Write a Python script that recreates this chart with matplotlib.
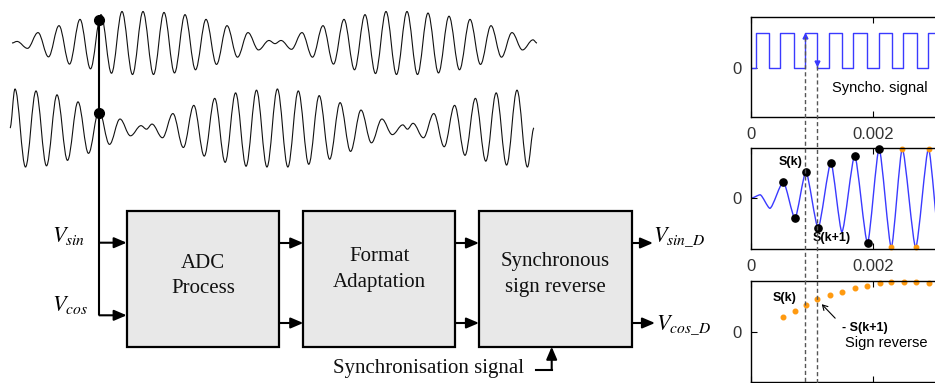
import numpy as np
import matplotlib.pyplot as plt
from matplotlib.path import Path
from matplotlib.patches import PathPatch, Rectangle

plt.rcParams['mathtext.fontset'] = 'stix'
plt.rcParams['font.family'] = ['Liberation Serif', 'DejaVu Serif']

# resolver signals: carrier extrema (position along the sketch, normalised value)
sin_x = np.r_[12, np.arange(17, 270, 10.5), 275, np.arange(281, 534, 10.5), 537]
sin_v = ([0]
         + [0.05, -0.17, 0.33, -0.44, 0.55, -0.67, 0.75, -0.82, 0.90, -0.96, 1.00, -1.00, 1.00,
            -1.00, 0.97, -0.95, 0.90, -0.85, 0.75, -0.68, 0.55, -0.45, 0.33, -0.22, 0.08]
         + [-0.02]
         + [0.08, -0.20, 0.33, -0.45, 0.55, -0.67, 0.75, -0.85, 0.90, -0.97, 1.00, -1.00, 1.00,
            -1.00, 0.95, -0.95, 0.85, -0.85, 0.75, -0.68, 0.55, -0.45, 0.33, -0.22, 0.10]
         + [0])

cos_x = np.r_[10, np.arange(15, 142, 10.5), 146.5, np.arange(152, 403.5, 10.45), 407.5,
              np.arange(413, 528, 10.4), 534]
cos_v = ([0]
         + [1.00, -1.00, 0.95, -0.97, 0.85, -0.83, 0.67, -0.65, 0.45, -0.42, 0.23, -0.20, 0.06]
         + [-0.03]
         + [0.10, -0.25, 0.37, -0.50, 0.58, -0.72, 0.76, -0.88, 0.90, -0.98, 0.97, -1.00, 1.00,
            -1.00, 0.95, -0.93, 0.83, -0.80, 0.65, -0.60, 0.46, -0.38, 0.23, -0.17, 0.08]
         + [-0.03]
         + [0.12, -0.25, 0.37, -0.48, 0.58, -0.70, 0.76, -0.85, 0.90, -0.95, 0.97, -1.00]
         + [0])

# right panels (time in s)
sync_t = [0, 0.00008, 0.0003, 0.00048, 0.00071, 0.00089, 0.00108, 0.00128, 0.00149, 0.00167,
          0.0019, 0.0021, 0.00231, 0.00249, 0.00272, 0.0029, 0.0032]
sync_v = [0, 1, 0, 1, 0, 1, 0, 1, 0, 1, 0, 1, 0, 1, 0, 1, 1]

sig_t = [0, 0.00015, 0.00031, 0.00053, 0.00072, 0.0009, 0.0011, 0.00131, 0.00149, 0.0017,
         0.00191, 0.0021, 0.0023, 0.00248, 0.0027, 0.00291, 0.0031]
sig_v = [0, 0.07, -0.20, 0.33, -0.40, 0.53, -0.59, 0.71, -0.67, 0.85, -0.89, 0.99, -0.98,
         0.99, -0.98, 0.99, -0.98]
black_idx = [3, 4, 5, 6, 7, 9, 10, 11]
orange_idx = [12, 13, 14, 15]

rev_t = [0.00053, 0.00072, 0.0009, 0.00109, 0.0013, 0.00149, 0.0017, 0.0019, 0.00211,
         0.00229, 0.0025, 0.0027, 0.00292]
rev_v = [0.29, 0.41, 0.53, 0.65, 0.73, 0.80, 0.87, 0.92, 0.97, 1.0, 1.0, 1.0, 0.97]

k_edge, k_next = 0.00089, 0.00108

W, H = 935, 383
fig = plt.figure(figsize=(W / 100, H / 100), dpi=100)


def px_axes(left, top, right, bottom):
    return fig.add_axes([left / W, 1 - bottom / H, (right - left) / W, (bottom - top) / H])


def smooth_path(xs, ys, k=0.36):
    verts = [(xs[0], ys[0])]
    codes = [Path.MOVETO]
    for i in range(len(xs) - 1):
        dx = xs[i + 1] - xs[i]
        verts += [(xs[i] + k * dx, ys[i]), (xs[i + 1] - k * dx, ys[i + 1]), (xs[i + 1], ys[i + 1])]
        codes += [Path.CURVE4] * 3
    return Path(verts, codes)


# ---- block diagram (pixel coordinates)
ax = px_axes(0, 0, W, H)
ax.set_xlim(0, W)
ax.set_ylim(H, 0)
ax.axis('off')

ax.add_patch(PathPatch(smooth_path(sin_x, 43 - 31.5 * np.array(sin_v)), fill=False, lw=0.8, color='#111'))
ax.add_patch(PathPatch(smooth_path(cos_x, 128 - 39 * np.array(cos_v)), fill=False, lw=0.8, color='#111'))

ax.plot([99.3, 99.3], [19.7, 315.3], color='k', lw=1.5, solid_capstyle='butt')
ax.plot([99.3, 99.3], [19.7, 112.5], 'o', color='k', ms=7)

boxes = [(126.7, 279.3, 'ADC\nProcess', 276),
         (303.3, 455.3, 'Format\nAdaptation', 269.5),
         (479, 632, 'Synchronous\nsign reverse', 274.5)]
for x0, x1, label, ty in boxes:
    ax.add_patch(Rectangle((x0, 211), x1 - x0, 135.7, facecolor='#e8e8e8', edgecolor='k', lw=1.6))
    ax.text((x0 + x1) / 2, ty, label, ha='center', va='center', fontsize=15,
            linespacing=1.45, color='#111')

arrow = dict(arrowstyle='-|>,head_length=0.75,head_width=0.32', lw=1.5, color='k',
             shrinkA=0, shrinkB=0)
links = [((99.3, 242.7), (126.7, 242.7)), ((99.3, 315.3), (126.7, 315.3)),
         ((279.3, 243), (303.3, 243)), ((279.3, 323), (303.3, 323)),
         ((455.3, 243), (479, 243)), ((455.3, 323), (479, 323)),
         ((632, 243), (653, 243)), ((632, 323), (655, 323)),
         ((551.7, 369.5), (551.7, 346.7))]
for a, b in links:
    ax.annotate('', xy=b, xytext=a, arrowprops=arrow)
ax.plot([536, 551.7], [369.5, 369.5], color='k', lw=1.5)

ax.text(52, 242, r'$V_{sin}$', fontsize=16, ha='left', va='baseline')
ax.text(52, 311, r'$V_{cos}$', fontsize=16, ha='left', va='baseline')
ax.text(653, 241, r'$V_{sin\_D}$', fontsize=16, ha='left', va='baseline')
ax.text(656, 329, r'$V_{cos\_D}$', fontsize=16, ha='left', va='baseline')
ax.text(333, 373.5, 'Synchronisation signal', fontsize=15, ha='left', va='baseline', color='#111')

# ---- right panels
blue = '#3a3aff'
orange = '#ff9a10'
sans = ['Liberation Sans', 'DejaVu Sans']
right = 751 + 0.0032 * 61000


def style(a, ylim, xlabels=True):
    a.set_xlim(0, 0.0032)
    a.set_ylim(*ylim)
    a.set_xticks([0, 0.002])
    a.set_xticklabels(['0', '0.002'] if xlabels else [], family=sans)
    a.set_yticks([0])
    a.set_yticklabels(['0'], family=sans)
    a.tick_params(direction='in', top=True, right=True, length=4, width=0.8,
                  labelsize=12, labelcolor='#333', pad=7)
    for s in a.spines.values():
        s.set_linewidth(1.0)


ax1 = px_axes(751, 17, right, 117)
style(ax1, (-1.39, 1.445))
ax1.plot(sync_t, sync_v, drawstyle='steps-post', color=blue, lw=1.0)
ax1.plot([k_edge], [0.91], '^', color=blue, ms=3.5)
ax1.plot([k_next], [0.13], 'v', color=blue, ms=3.5)
ax1.text(0.00132, -0.58, 'Syncho. signal', family=sans, fontsize=10.5, va='center')

ax2 = px_axes(751, 148.3, right, 249.3)
style(ax2, (-1.02, 1.0))
ax2.add_patch(PathPatch(smooth_path(sig_t, sig_v, k=0.22), fill=False, color=blue, lw=1.0))
ax2.plot([sig_t[i] for i in orange_idx], [sig_v[i] for i in orange_idx], 'o',
         color=orange, ms=3.2, clip_on=False)
ax2.plot([sig_t[i] for i in black_idx], [sig_v[i] for i in black_idx], 'o',
         color='k', ms=5.2, clip_on=False)
ax2.text(0.00084, 0.72, 'S(k)', family=sans, fontsize=9, weight='bold', ha='right', va='center')
ax2.text(0.00101, -0.8, 'S(k+1)', family=sans, fontsize=9, weight='bold', ha='left', va='center')

ax3 = px_axes(751, 280.7, right, 381.7)
style(ax3, (-1.0, 1.02), xlabels=False)
ax3.plot(rev_t, rev_v, 'o', color=orange, ms=3.3, clip_on=False)
ax3.text(0.00075, 0.68, 'S(k)', family=sans, fontsize=9, weight='bold', ha='right', va='center')
ax3.text(0.00149, 0.08, '- S(k+1)', family=sans, fontsize=9, weight='bold', ha='left', va='center')
ax3.text(0.00154, -0.23, 'Sign reverse', family=sans, fontsize=10.5, ha='left', va='center')
ax3.annotate('', xy=(0.00116, 0.55), xytext=(0.00138, 0.27),
             arrowprops=dict(arrowstyle='->,head_length=0.35,head_width=0.2', lw=0.8, color='k',
                             shrinkA=0, shrinkB=0))

# dashed markers across the three panels
axo = px_axes(751, 0, right, H)
axo.set_xlim(0, 0.0032)
axo.set_ylim(H, 0)
axo.axis('off')
axo.vlines([k_edge], 37, H, colors='#555', linestyles=(0, (3, 2)), lw=1.0)
axo.vlines([k_next], 66, H, colors='#555', linestyles=(0, (3, 2)), lw=1.0)

fig.savefig('out.png', dpi=100)
